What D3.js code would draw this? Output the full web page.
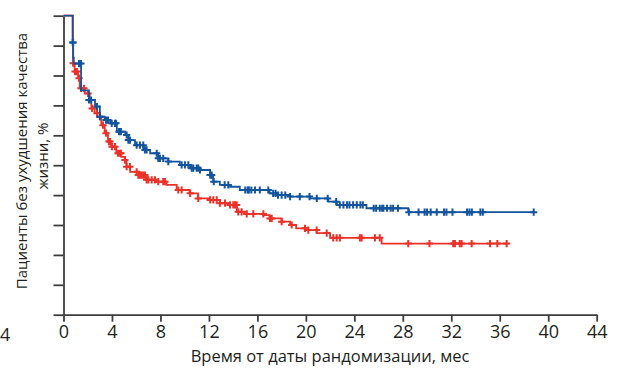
<!DOCTYPE html>
<html>
<head>
<meta charset="utf-8">
<script src="https://cdn.jsdelivr.net/npm/d3@7"></script>
<style>
  body { margin: 0; background: #fff; }
  svg { display: block; font-family: "Open Sans", "DejaVu Sans", sans-serif; }
</style>
</head>
<body>
<svg id="chart" width="619" height="373"></svg>
<script>
// steps: [month, % without QoL deterioration]
const blueSteps = [
  [0, 100], [0.75, 91], [0.8, 86], [0.85, 84], [1.45, 75], [2.1, 71.8], [2.6, 69.6],
  [3.0, 66.2], [3.4, 65.1], [3.85, 64.0], [4.4, 61.2], [5.1, 60.1], [5.35, 58.4],
  [5.9, 56.7], [6.6, 55.1], [7.15, 54.0], [7.8, 52.3], [8.65, 51.2], [9.6, 50.1],
  [10.45, 49.0], [11.25, 48.4], [12.1, 46.7], [12.35, 44.5], [12.9, 43.4], [13.75, 42.8],
  [14.55, 41.7], [17.0, 40.6], [17.6, 40.0], [18.7, 39.5], [20.35, 38.9], [21.85, 37.8],
  [22.55, 36.7], [25.0, 35.6], [28.45, 34.3]
];
const blueEnd = 38.9;
const blueCensor = [
  0.76, 0.79, 1.28, 1.44, 2.1, 2.27, 2.76, 3.0, 3.51, 3.67, 3.98, 4.25, 4.33, 4.58, 4.74,
  5.21, 5.35, 5.49, 6.04, 6.31, 6.58, 6.72, 6.86, 7.69, 7.82, 7.96, 8.23, 8.65, 9.75,
  10.02, 10.3, 10.58, 10.71, 10.99, 11.12, 11.26, 12.1, 12.23, 12.4, 13.3, 13.6, 15.0,
  15.2, 15.3, 15.5, 15.8, 16.2, 16.9, 17.3, 17.5, 17.7, 18.0, 18.3, 18.7, 19.5, 20.3,
  20.9, 21.8, 22.5, 22.8, 23.1, 23.4, 23.6, 23.9, 24.2, 24.5, 24.7, 25.6, 25.8, 26.1,
  26.3, 26.4, 26.7, 27.0, 27.2, 27.6, 28.5, 29.3, 29.8, 30.0, 30.3, 30.8, 31.4, 31.6,
  32.1, 33.3, 33.5, 33.7, 34.4, 34.6, 38.8
];

const redSteps = [
  [0, 100], [0.78, 84.1], [0.92, 81.3], [1.2, 79.1], [1.34, 75.7], [1.75, 74.0],
  [2.16, 71.8], [2.3, 69.0], [2.57, 67.4], [3.0, 66.2], [3.12, 63.4], [3.4, 60.7],
  [3.67, 57.9], [3.94, 56.2], [4.36, 54.0], [4.77, 52.8], [5.07, 51.7], [5.2, 49.5],
  [5.5, 47.8], [6.17, 46.7], [6.86, 45.1], [7.7, 44.5], [8.5, 43.4], [9.34, 41.7],
  [10.4, 40.6], [11.1, 38.9], [12.1, 38.4], [12.9, 37.3], [13.7, 36.7], [14.3, 34.4],
  [15.1, 33.7], [16.5, 33.3], [17.0, 32.2], [18.0, 31.1], [18.7, 30.0], [19.2, 28.9],
  [20.1, 28.3], [20.9, 27.3], [22.0, 25.7], [26.25, 23.8]
];
const redEnd = 36.6;
const redCensor = [
  0.79, 0.95, 1.11, 1.28, 1.44, 1.69, 2.03, 2.36, 2.77, 3.01, 3.26, 3.51, 3.75, 3.84,
  4.0, 4.25, 4.5, 4.66, 4.74, 5.07, 5.21, 5.48, 6.04, 6.17, 6.31, 6.45, 6.58, 6.72,
  6.86, 7.0, 7.28, 7.55, 7.82, 8.23, 8.37, 9.47, 9.75, 10.45, 11.12, 12.1, 12.36, 12.64,
  12.91, 13.33, 13.74, 14.01, 14.15, 14.29, 14.42, 14.7, 15.12, 15.66, 16.49, 17.04,
  17.18, 18.0, 18.83, 19.93, 20.2, 20.89, 21.72, 22.26, 22.54, 22.81, 24.46, 24.6,
  25.7, 26.1, 28.45, 30.2, 32.16, 32.3, 32.7, 32.85, 33.68, 35.2, 35.8, 36.57
];

const xTicks = d3.range(0, 45, 4);
const yTicks = d3.range(0, 101, 10);

const svg = d3.select('#chart');
const x = d3.scaleLinear().domain([0, 44]).range([63.5, 596.7]);
const y = d3.scaleLinear().domain([0, 100]).range([314.7, 15.7]);

const axisColor = '#3d3d3d';

// y axis, ticks only
const yAxis = svg.append('g')
  .attr('transform', `translate(${x(0)},0)`)
  .call(d3.axisLeft(y).tickValues(yTicks).tickFormat('').tickSize(10).tickSizeOuter(0));

// x axis
const xAxis = svg.append('g')
  .attr('transform', `translate(0,${y(0)})`)
  .call(d3.axisBottom(x).tickValues(xTicks).tickSize(7).tickSizeOuter(0).tickPadding(4));

[yAxis, xAxis].forEach(a => {
  a.selectAll('path, line').attr('stroke', axisColor).attr('stroke-width', 1.8);
  a.selectAll('text').attr('fill', '#231f20').style('font-size', '18px')
    .style('font-family', '"Open Sans", sans-serif');
});

// stray label at the left edge
svg.append('text')
  .attr('x', 0).attr('y', 341)
  .attr('text-anchor', 'start')
  .attr('fill', '#231f20')
  .style('font-size', '18px')
  .text('4');

const line = d3.line()
  .x(d => x(d[0]))
  .y(d => y(d[1]))
  .curve(d3.curveStepAfter);

function valueAt(steps, t) {
  const i = d3.bisector(d => d[0]).right(steps, t) - 1;
  return steps[Math.max(0, i)][1];
}

function drawCurve(steps, end, censor, color) {
  const pts = steps.concat([[end, steps[steps.length - 1][1]]]);
  const g = svg.append('g');
  g.append('path')
    .attr('d', line(pts))
    .attr('fill', 'none')
    .attr('stroke', color)
    .attr('stroke-width', 1.8);
  const s = 3.6;
  g.selectAll('path.c')
    .data(censor)
    .join('path')
    .attr('class', 'c')
    .attr('d', t => {
      const cx = x(t), cy = y(valueAt(steps, t));
      return `M${cx - s},${cy}H${cx + s}M${cx},${cy - s}V${cy + s}`;
    })
    .attr('stroke', color)
    .attr('stroke-width', 2);
}

drawCurve(redSteps, redEnd, redCensor, '#ec3129');
drawCurve(blueSteps, blueEnd, blueCensor, '#12549e');

// axis titles
const yTitle = svg.append('g').attr('fill', '#231f20').style('font-size', '15px');
yTitle.append('text')
  .attr('transform', 'translate(27,161) rotate(-90)')
  .attr('text-anchor', 'middle')
  .text('Пациенты без ухудшения качества');
yTitle.append('text')
  .attr('transform', 'translate(48,156) rotate(-90)')
  .attr('text-anchor', 'middle')
  .text('жизни, %');

svg.append('text')
  .attr('x', x(22)).attr('y', 362)
  .attr('text-anchor', 'middle')
  .attr('fill', '#231f20')
  .style('font-size', '16.5px')
  .text('Время от даты рандомизации, мес');
</script>
</body>
</html>
